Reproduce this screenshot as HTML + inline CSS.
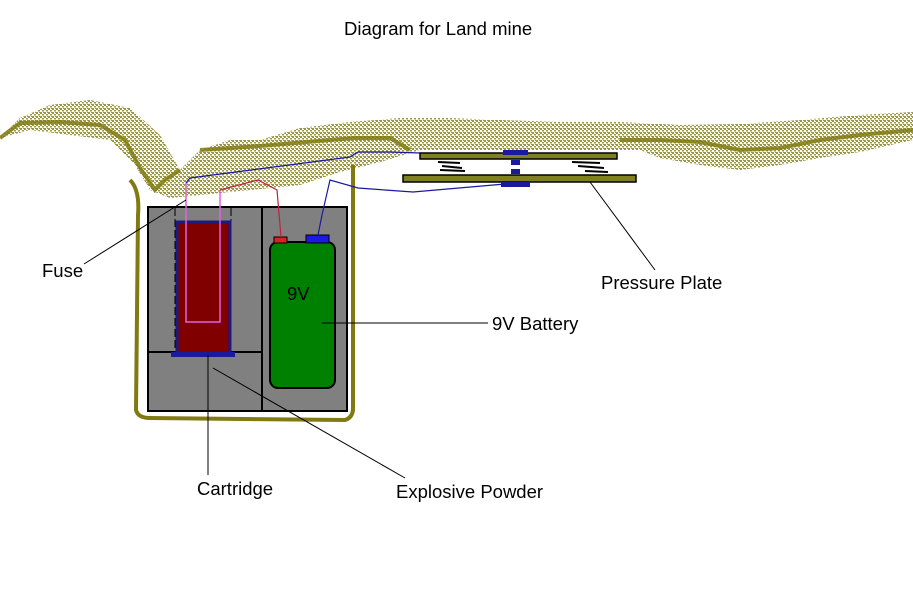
<!DOCTYPE html>
<html><head><meta charset="utf-8"><style>
body{margin:0;background:#fff;width:913px;height:600px;overflow:hidden}
svg{display:block}
text{font-family:"Liberation Sans",sans-serif;font-size:18.5px;fill:#000}
</style></head><body>
<svg width="913" height="600" viewBox="0 0 913 600">
<defs>
<pattern id="sp" width="4" height="4" patternUnits="userSpaceOnUse">
<rect width="4" height="4" fill="#fff"/>
<rect x="0" y="0" width="2" height="2" fill="#8a8420"/>
<rect x="2" y="2" width="2" height="1.5" fill="#8a8420"/>
<rect x="3" y="0" width="1" height="1" fill="#8a8420"/>
</pattern>
</defs>
<path d="M0,138 L20,118 L50,105 L90,100 L130,108 L160,135 L180,170 L200,150 L230,140 L260,140 L300,128 L350,122 L400,118 L450,118 L500,120 L560,122 L620,122 L680,125 L740,124 L800,120 L860,115 L913,112 L913,140 L860,152 L820,158 L780,165 L740,170 L700,165 L660,158 L640,150 L620,150 L420,150 L380,162 L340,172 L300,185 L250,190 L200,195 L170,198 L150,190 L135,165 L110,140 L70,135 L30,130 Z" fill="url(#sp)" opacity="0.85"/>
<path d="M0,138 L20,123 L60,122 L100,125 L125,140 L140,168 L155,190 L165,180 L180,170 M200,150 L260,146 L330,140 L355,138 L390,138 L410,150 M620,140 L660,140 L700,142 L740,150 L780,148 L820,140 L860,135 L913,130" fill="none" stroke="#807a10" stroke-width="4" opacity="0.85"/>
<path d="M130,180 Q140,190 138,215 L136,410 Q138,418 150,418 L345,420 Q352,418 353,410 L353,165" fill="none" stroke="#807a10" stroke-width="4"/>
<rect x="148" y="207" width="199" height="204" fill="#808080" stroke="#000" stroke-width="2"/>
<line x1="262" y1="207" x2="262" y2="411" stroke="#000" stroke-width="2"/>
<line x1="148" y1="352" x2="262" y2="352" stroke="#000" stroke-width="2"/>
<line x1="175" y1="208" x2="175" y2="352" stroke="#000" stroke-dasharray="8,3"/>
<line x1="231" y1="208" x2="231" y2="352" stroke="#000" stroke-dasharray="8,3"/>
<rect x="177" y="222" width="53" height="133" fill="#800000" stroke="#1a1a80" stroke-width="3"/>
<rect x="171" y="352" width="64" height="5" fill="#1a1aa0"/>
<path d="M186,183 L186,322 L220,322 L220,190" fill="none" stroke="#e060e0" stroke-width="1.5"/>
<rect x="270" y="242" width="65" height="146" rx="8" fill="#008000" stroke="#000" stroke-width="2"/>
<rect x="274" y="237" width="13" height="6" fill="#e02020" stroke="#000"/>
<rect x="306" y="235" width="23" height="8" fill="#1a1ae0" stroke="#000"/>
<text x="287" y="300">9V</text>
<path d="M186,183 L190,178 L350,157 L358,152 L390,152 L420,153" fill="none" stroke="#1a1aa0" stroke-width="1.2"/>
<path d="M220,190 L258,180 L277,190 L281,237" fill="none" stroke="#c02040" stroke-width="1.2"/>
<path d="M318,235 L322,215 L330,180 L358,188 L385,190 L413,192 L505,184" fill="none" stroke="#1a1aa0" stroke-width="1.2"/>
<rect x="420" y="153" width="197" height="6" fill="#808020" stroke="#000" stroke-width="1.5"/>
<rect x="403" y="175" width="233" height="7" fill="#808020" stroke="#000" stroke-width="1.5"/>
<rect x="503" y="150" width="25" height="5" fill="#1a1aa0"/>
<rect x="511" y="160" width="9" height="5" fill="#1a1aa0"/>
<rect x="511" y="169" width="9" height="5" fill="#1a1aa0"/>
<rect x="501" y="182" width="29" height="5" fill="#1a1aa0"/>
<g stroke="#000" stroke-width="2">
<line x1="438" y1="162" x2="460" y2="163"/><line x1="442" y1="166" x2="462" y2="168"/><line x1="440" y1="170" x2="465" y2="171"/>
<line x1="572" y1="162" x2="600" y2="163"/><line x1="578" y1="166" x2="604" y2="168"/><line x1="585" y1="171" x2="608" y2="172"/>
</g>
<g stroke="#000" stroke-width="1">
<line x1="84" y1="264" x2="186" y2="200"/>
<line x1="322" y1="323" x2="488" y2="323"/>
<line x1="590" y1="182" x2="655" y2="270"/>
<line x1="208" y1="355" x2="208" y2="475"/>
<line x1="213" y1="368" x2="405" y2="478"/>
</g>
<text x="344" y="35">Diagram for Land mine</text>
<text x="42" y="277">Fuse</text>
<text x="492" y="330">9V Battery</text>
<text x="601" y="289">Pressure Plate</text>
<text x="197" y="495">Cartridge</text>
<text x="396" y="498">Explosive Powder</text>
</svg>
</body></html>
